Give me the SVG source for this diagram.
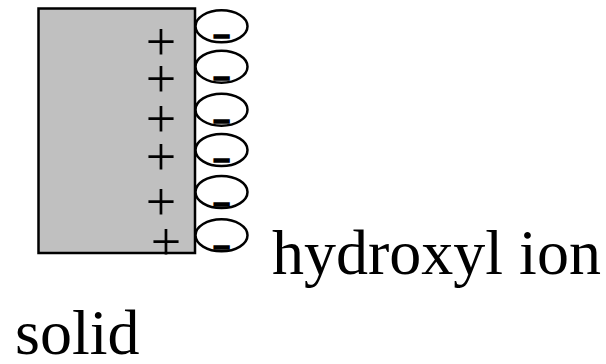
<svg xmlns="http://www.w3.org/2000/svg" width="606" height="364" viewBox="0 0 606 364">
<style>
.lbl{font-family:"Liberation Serif","Times New Roman",serif;font-size:64px;fill:#000}
.plus{font-family:"Liberation Serif","Times New Roman",serif;font-size:54px;fill:#000;text-anchor:middle}
.ion{fill:#fff;stroke:#000;stroke-width:2.5}
.minus{font-family:"Liberation Sans",Arial,sans-serif;font-weight:bold;font-size:30px;fill:#000;stroke:#000;stroke-width:1.5;text-anchor:middle}
</style>
<rect width="606" height="364" fill="#fff"/>
<g id="solid">
<rect x="38.5" y="8.5" width="156.5" height="244.5" fill="#c0c0c0" stroke="#000" stroke-width="2.5"/>
<text class="plus"><tspan x="161" y="59.5">+</tspan><tspan x="161" y="96.5">+</tspan><tspan x="161" y="137">+</tspan><tspan x="161" y="174.5">+</tspan><tspan x="161" y="219.5">+</tspan><tspan x="166" y="260">+</tspan></text>
<text class="lbl" x="15" y="354">solid</text>
</g>
<g id="ions">
<ellipse class="ion" cx="221.5" cy="26.3" rx="26" ry="16"/>
<ellipse class="ion" cx="221.5" cy="66.7" rx="26" ry="16"/>
<ellipse class="ion" cx="221.5" cy="109.7" rx="26" ry="16"/>
<ellipse class="ion" cx="221.5" cy="150" rx="26" ry="16"/>
<ellipse class="ion" cx="221.5" cy="192" rx="26" ry="16"/>
<ellipse class="ion" cx="221.5" cy="235.3" rx="26" ry="16"/>
<text class="minus"><tspan x="221.5" y="44.5">–</tspan><tspan x="221.5" y="86.5">–</tspan><tspan x="221.5" y="129.5">–</tspan><tspan x="221.5" y="168.5">–</tspan><tspan x="221.5" y="212.5">–</tspan><tspan x="221.5" y="255.5">–</tspan></text>
<text class="lbl" x="272" y="274">hydroxyl ion</text>
</g>
<g id="connectors"/>
</svg>
